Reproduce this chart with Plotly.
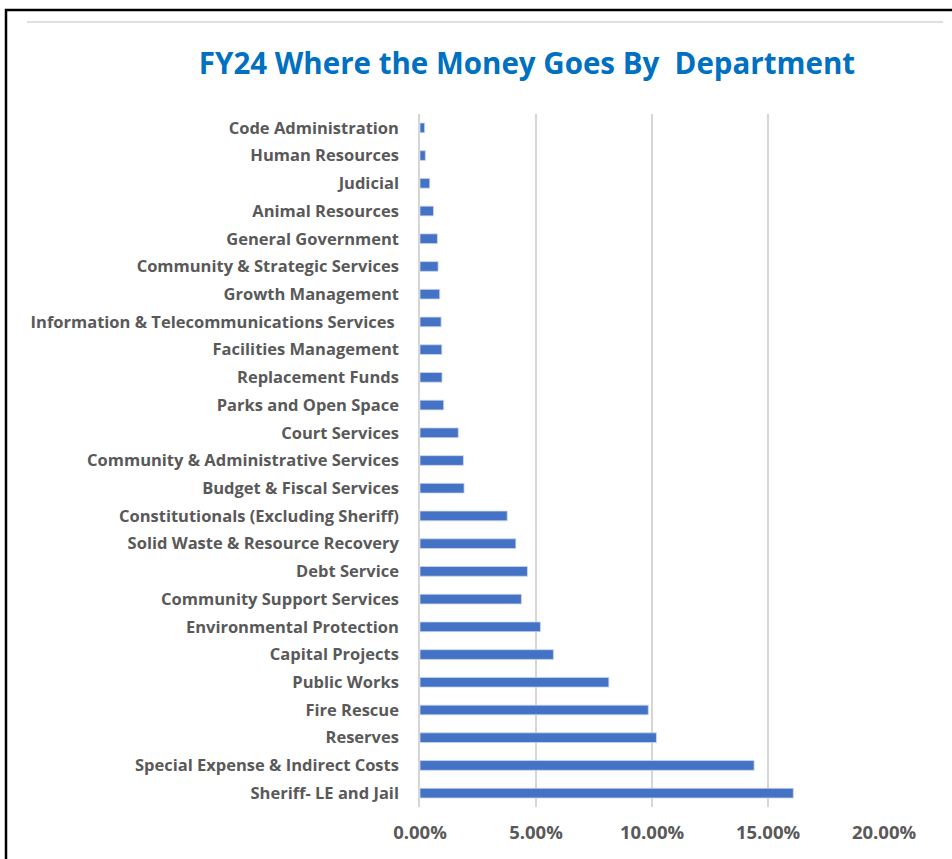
import plotly.graph_objects as go

departments = [
    "Code Administration",
    "Human Resources",
    "Judicial",
    "Animal Resources",
    "General Government",
    "Community & Strategic Services",
    "Growth Management",
    "Information & Telecommunications Services ",
    "Facilities Management",
    "Replacement Funds",
    "Parks and Open Space",
    "Court Services",
    "Community & Administrative Services",
    "Budget & Fiscal Services",
    "Constitutionals (Excluding Sheriff)",
    "Solid Waste & Resource Recovery",
    "Debt Service",
    "Community Support Services",
    "Environmental Protection",
    "Capital Projects",
    "Public Works",
    "Fire Rescue",
    "Reserves",
    "Special Expense & Indirect Costs",
    "Sheriff- LE and Jail",
]
share = [
    0.0020, 0.0023, 0.0042, 0.0058, 0.0075, 0.0078, 0.0085, 0.0091, 0.0094,
    0.0095, 0.0102, 0.0165, 0.0187, 0.0190, 0.0376, 0.0413, 0.0463, 0.0437,
    0.0519, 0.0575, 0.0814, 0.0984, 0.1019, 0.1440, 0.1609,
]
x_ticks = [0, 0.05, 0.10, 0.15, 0.20]

W, H = 952, 859
L, R, T, B = 420, 952 - 884, 114, 859 - 807
FONT = "Open Sans"


def px_x(p):
    return (p - L) / (W - L - R)


def px_y(p):
    return 1 - (p - T) / (H - T - B)


fig = go.Figure(
    go.Bar(
        y=departments,
        x=share,
        orientation="h",
        marker=dict(color="#4472C4", line=dict(color="#C9D6EE", width=0.8)),
        width=0.35,
    )
)

fig.update_layout(
    width=W,
    height=H,
    margin=dict(l=L, r=R, t=T, b=B),
    paper_bgcolor="white",
    plot_bgcolor="white",
    showlegend=False,
    title=dict(
        text="FY24 Where the Money Goes By \u00a0Department",
        x=527 / W,
        xanchor="center",
        y=1 - 64 / H,
        yanchor="middle",
        font=dict(family=FONT, size=29.5, color="#0070C0", weight="bold"),
    ),
    shapes=[
        # outer frame, runs off the right and bottom edges
        dict(type="rect", xref="paper", yref="paper",
             x0=px_x(6), x1=px_x(970), y0=px_y(880), y1=px_y(10),
             line=dict(color="black", width=2.5)),
        # thin chart-area rule at top
        dict(type="line", xref="paper", yref="paper",
             x0=px_x(27), x1=px_x(943), y0=px_y(22), y1=px_y(22),
             line=dict(color="#E0E0E0", width=2)),
    ],
)

fig.update_xaxes(
    range=[0, 0.20],
    tickvals=x_ticks,
    tickformat=".2%",
    showgrid=True,
    gridcolor="#D6D6D6",
    gridwidth=1.5,
    zeroline=False,
    showline=False,
    ticklabelstandoff=12,
    tickfont=dict(family=FONT, size=18.5, color="#595959", weight="bold"),
)
fig.update_yaxes(
    autorange="reversed",
    showgrid=False,
    showline=True,
    linecolor="#D6D6D6",
    linewidth=1.5,
    ticks="",
    ticklabelstandoff=16,
    tickfont=dict(family=FONT, size=16.5, color="#595959", weight="bold"),
)

# drop the default page margin so the figure sits at the window's corner
fig.write_html(
    "out.html",
    config={"displayModeBar": False},
    post_script="document.body.style.margin='0';",
)
